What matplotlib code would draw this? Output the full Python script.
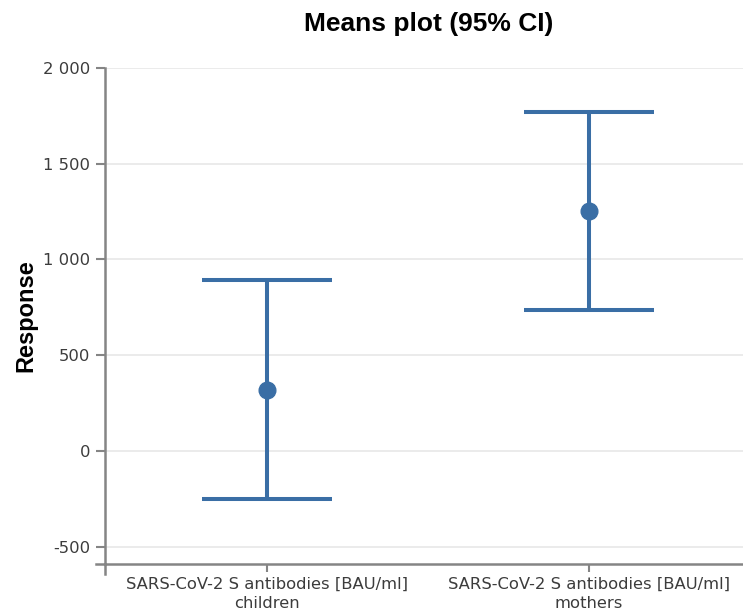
import numpy as np
import matplotlib.pyplot as plt
from matplotlib.ticker import FuncFormatter

groups = ['SARS-CoV-2 S antibodies [BAU/ml]\nchildren',
          'SARS-CoV-2 S antibodies [BAU/ml]\nmothers']
means = [319, 1251]
ci_low = [-251, 735]
ci_high = [895, 1770]

col = '#3a6ea5'
grey = '#858585'
x = np.arange(len(groups))
m = np.array(means)
err = [m - np.array(ci_low), np.array(ci_high) - m]

fig = plt.figure(figsize=(7.43, 6.13), dpi=100)
ax = fig.add_axes([0.1413, 0.0799, 0.8587, 0.8091])

ax.errorbar(x, m, yerr=err, fmt='o', color=col, ecolor=col,
            elinewidth=2.9, capsize=46.5, capthick=2.9, markersize=12, zorder=3)

ax.set_xlim(-0.503, 1.478)
ax.set_ylim(-591, 2000)
ax.set_yticks([-500, 0, 500, 1000, 1500, 2000])
ax.yaxis.set_major_formatter(FuncFormatter(lambda v, p: f'{int(v):,}'.replace(',', ' ')))
ax.set_xticks(x)
ax.set_xticklabels(groups, fontsize=11.8, color='#3c3c3c', linespacing=1.3)

ax.grid(axis='y', color='#e8e8e8', linewidth=1.2)
ax.set_axisbelow(True)
for s in ['top', 'right']:
    ax.spines[s].set_visible(False)
for s in ['left', 'bottom']:
    ax.spines[s].set_color(grey)
    ax.spines[s].set_linewidth(1.8)
# overhang where the two axes cross
ax.plot([-0.014, 0], [0, 0], transform=ax.transAxes, color=grey, lw=1.8, clip_on=False)
ax.plot([0, 0], [-0.02, 0], transform=ax.transAxes, color=grey, lw=1.8, clip_on=False)

ax.tick_params(axis='y', length=6.5, width=1.5, color=grey, labelsize=11.8,
               labelcolor='#3c3c3c', pad=4)
ax.tick_params(axis='x', length=5.5, width=1.5, color=grey, pad=4)

ax.set_ylabel('Response', fontsize=17, fontweight='bold', family='Liberation Sans')
ax.yaxis.set_label_coords(-0.106, 0.5)
fig.text(0.5767, 0.961, 'Means plot (95% CI)', ha='center', va='center',
         fontsize=19, fontweight='bold', family='Liberation Sans')

fig.savefig('out.png', dpi=100)
